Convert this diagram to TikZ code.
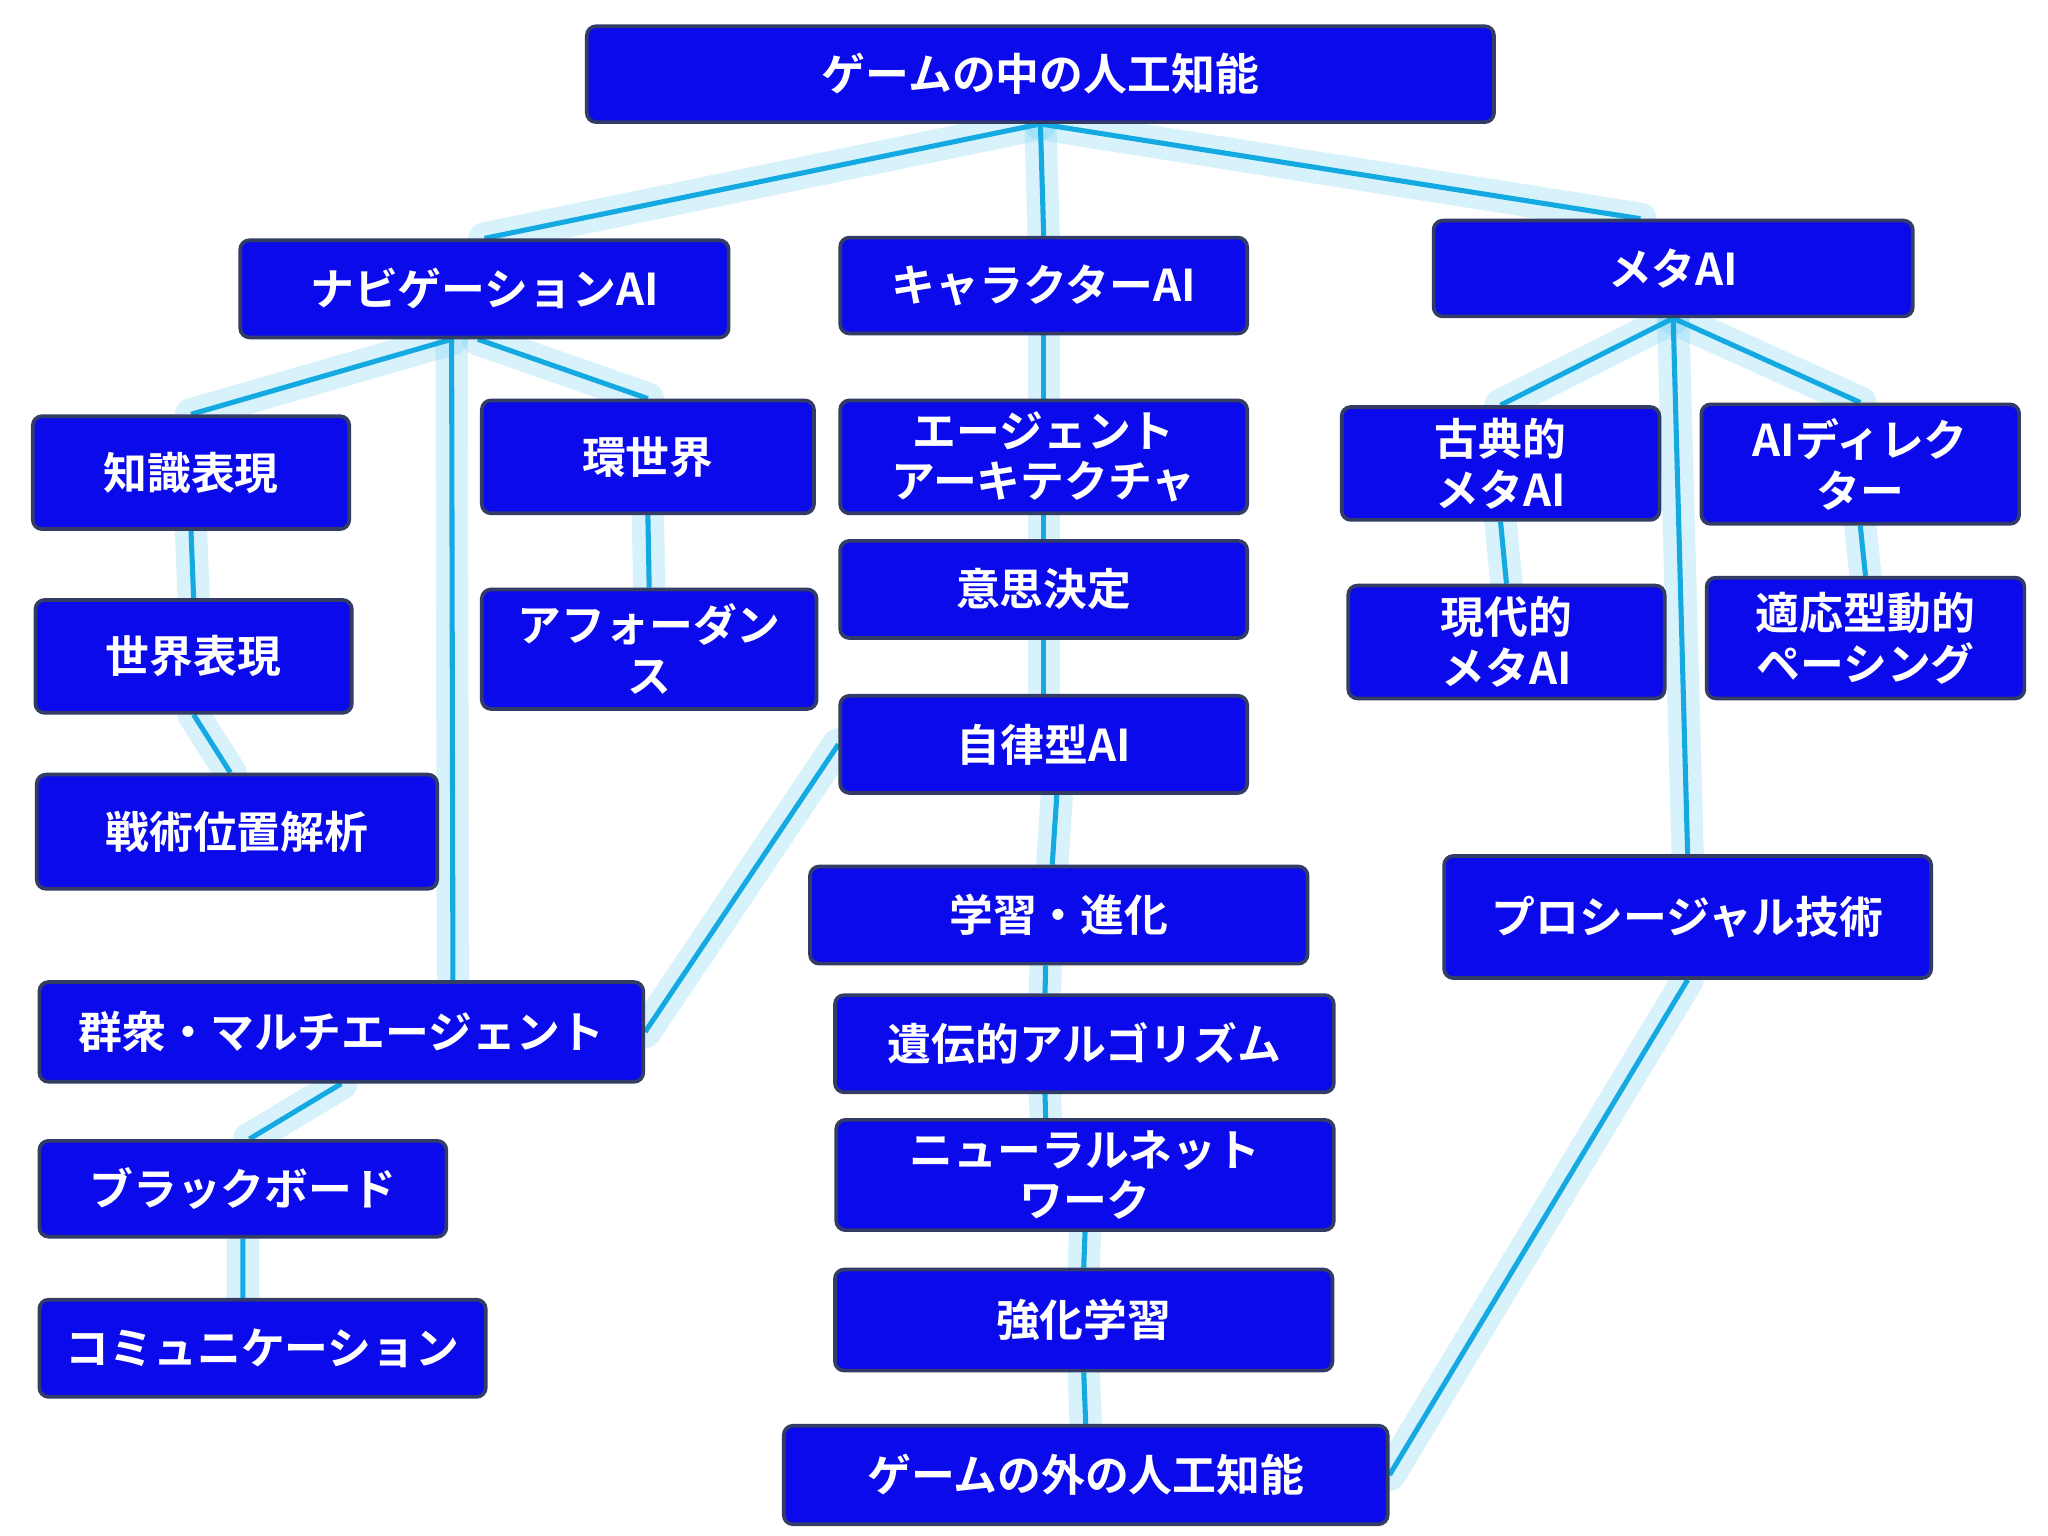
\documentclass[tikz,border=0pt]{standalone}
\usepackage{fontspec}
\setmainfont{Noto Sans CJK JP}[BoldFont={Noto Sans CJK JP Bold}]
\usetikzlibrary{calc}
\pgfdeclarelayer{bg}\pgfdeclarelayer{paper}\pgfsetlayers{paper,bg,main}
\definecolor{boxblue}{RGB}{10,10,235}
\definecolor{boxedge}{RGB}{50,60,100}
\definecolor{lnk}{RGB}{20,170,225}
\begin{document}
\begin{tikzpicture}[x=0.2mm,y=-0.2mm,
  box/.style={draw=boxedge,line width=1.6pt,fill=boxblue,rounded corners=4pt,text=white,
    font=\bfseries\fontsize{19}{22}\selectfont,align=center,inner sep=0pt},
  glow/.style={draw=cyan!60,line width=14pt,opacity=0.25,line cap=round},
  ln/.style={draw=lnk,line width=2.2pt}]
\begin{pgfonlayer}{paper}
\fill[white] (0,0) rectangle (1560,1170);
\end{pgfonlayer}
\useasboundingbox (0,0) rectangle (1560,1170);
\newcommand\bx[6]{\node[box,minimum width={(#4-#2)*0.2mm},minimum height={(#5-#3)*0.2mm}] (#1) at ({(#2+#4)/2},{(#3+#5)/2}) {#6};}
\bx{top}{447}{20}{1138}{93}{ゲームの中の人工知能}
\bx{nav}{183}{183}{555}{257}{ナビゲーションAI}
\bx{chr}{640}{181}{950}{254}{キャラクターAI}
\bx{meta}{1092}{168}{1457}{241}{メタAI}
\bx{chi}{25}{317}{266}{403}{知識表現}
\bx{kan}{367}{305}{620}{391}{環世界}
\bx{age}{640}{305}{950}{391}{エージェント\\アーキテクチャ}
\bx{kot}{1022}{310}{1264}{396}{古典的\\メタAI}
\bx{dir}{1296}{308}{1538}{399}{AIディレク\\ター}
\bx{sek}{27}{457}{268}{543}{世界表現}
\bx{aff}{367}{449}{622}{540}{アフォーダン\\ス}
\bx{ish}{640}{412}{950}{486}{意思決定}
\bx{gen}{1027}{446}{1268}{532}{現代的\\メタAI}
\bx{tek}{1300}{440}{1542}{532}{適応型動的\\ペーシング}
\bx{sen}{28}{590}{333}{677}{戦術位置解析}
\bx{jir}{640}{530}{950}{604}{自律型AI}
\bx{gak}{617}{660}{996}{734}{学習・進化}
\bx{pro}{1100}{652}{1471}{745}{プロシージャル技術}
\bx{gun}{30}{748}{490}{824}{群衆・マルチエージェント}
\bx{ide}{636}{758}{1016}{832}{遺伝的アルゴリズム}
\bx{bla}{30}{869}{340}{942}{ブラックボード}
\bx{neu}{637}{853}{1016}{937}{ニューラルネット\\ワーク}
\bx{com}{30}{990}{370}{1064}{コミュニケーション}
\bx{kyo}{636}{967}{1015}{1044}{強化学習}
\bx{soto}{597}{1086}{1057}{1161}{ゲームの外の人工知能}
\begin{pgfonlayer}{bg}
\foreach \s in {glow,ln}{
 \path[\s] (top.south) -- ([xshift=0]nav.north);
 \path[\s] (top.south) -- (chr.north);
 \path[\s] (top.south) -- ([xshift=-5mm]meta.north);
 \path[\s] ([xshift=-5mm]nav.south) -- (chi.north);
 \path[\s] ([xshift=-1mm]nav.south) -- (kan.north);
 \path[\s] ([xshift=-5mm]nav.south) -- ([xshift=17mm]gun.north);
 \path[\s] (chi.south) -- (sek.north);
 \path[\s] (sek.south) -- ([xshift=-1mm]sen.north);
 \path[\s] (gun.east) -- (jir.west);
 \path[\s] (gun.south) -- ([xshift=1mm]bla.north);
 \path[\s] (bla.south) -- ([xshift=-3mm]com.north);
 \path[\s] (kan.south) -- (aff.north);
 \path[\s] (chr.south) -- (age.north);
 \path[\s] (age.south) -- (ish.north);
 \path[\s] (ish.south) -- (jir.north);
 \path[\s] ([xshift=2mm]jir.south) -- ([xshift=-1mm]gak.north);
 \path[\s] ([xshift=-2mm]gak.south) -- ([xshift=-6mm]ide.north);
 \path[\s] ([xshift=-6mm]ide.south) -- ([xshift=-6mm]neu.north);
 \path[\s] (neu.south) -- (kyo.north);
 \path[\s] (kyo.south) -- (soto.north);
 \path[\s] (meta.south) -- (kot.north);
 \path[\s] (meta.south) -- (dir.north);
 \path[\s] (meta.south) -- (pro.north);
 \path[\s] (kot.south) -- (gen.north);
 \path[\s] (dir.south) -- (tek.north);
 \path[\s] (pro.south) -- (soto.east);
}
\end{pgfonlayer}
\end{tikzpicture}
\end{document}
